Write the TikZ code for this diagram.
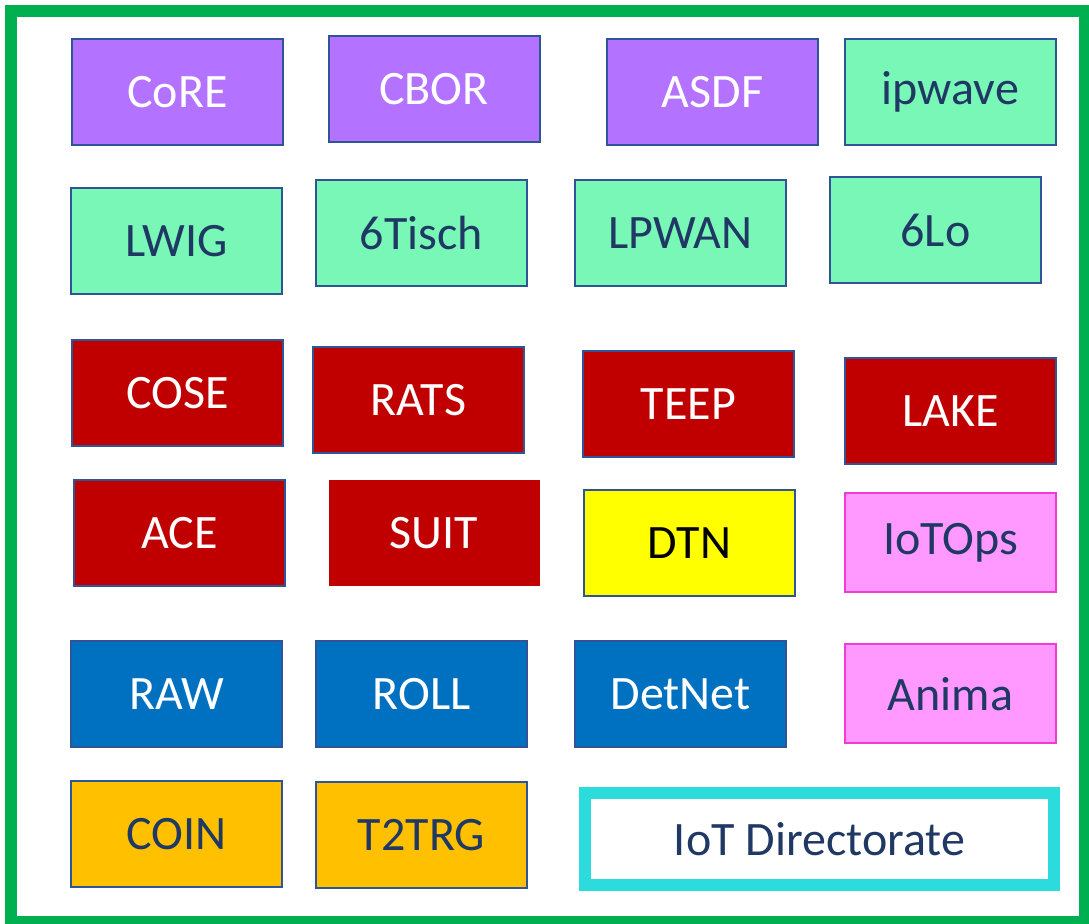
\documentclass[tikz,border=0pt]{standalone}
\usepackage{fontspec}
\setmainfont{Carlito}
\usepackage{tikz}
\definecolor{wgpurple}{HTML}{B372FF}
\definecolor{wgmint}{HTML}{79F7B7}
\definecolor{wgred}{HTML}{C00000}
\definecolor{wgblue}{HTML}{0070C0}
\definecolor{wgorange}{HTML}{FFC000}
\definecolor{wgyellow}{HTML}{FFFF00}
\definecolor{wgpink}{HTML}{FF99FF}
\definecolor{wgpinkline}{HTML}{F03CD2}
\definecolor{wgedge}{HTML}{2F5597}
\definecolor{wgnavy}{HTML}{1F3864}
\definecolor{wgcyan}{HTML}{2CDCDC}
\definecolor{wgframe}{HTML}{00B050}

\begin{document}
\begin{tikzpicture}[x=0.5pt,y=-0.5pt,
		wg/.style={draw=wgedge, line width=1pt, minimum width=105.5pt, minimum height=53pt,
			inner sep=0pt, font=\fontsize{24}{28}\selectfont},
		sec/.style={wg, fill=wgpurple, text=white},
		int/.style={wg, fill=wgmint, text=wgnavy},
		secr/.style={wg, fill=wgred, text=white},
		rtg/.style={wg, fill=wgblue, text=white},
		irtf/.style={wg, fill=wgorange, text=wgnavy},
		ops/.style={wg, fill=wgpink, draw=wgpinkline, minimum height=49.5pt, text=wgnavy}]
	\useasboundingbox (0,0) rectangle (1089,924);
	\draw[wgframe, line width=6pt] (11,11) rectangle (1085,922);
	% row 1
	\node[sec] (core) at (177.5,92) {CoRE};
	\node[sec] (cbor) at (434,89.5) {CBOR};
	\node[sec] (asdf) at (712.5,92) {ASDF};
	\node[int] (ipwave) at (950.5,92) {ipwave};
	% row 2
	\node[int] (lwig) at (176.5,241.5) {LWIG};
	\node[int] (tisch) at (421.5,233) {6Tisch};
	\node[int] (lpwan) at (680.5,233.5) {LPWAN};
	\node[int] (sixlo) at (935.5,230.5) {6Lo};
	% row 3
	\node[secr] (cose) at (177.5,393.5) {COSE};
	\node[secr] (rats) at (418.5,400.5) {RATS};
	\node[secr] (teep) at (688.5,404.5) {TEEP};
	\node[secr] (lake) at (950.5,411) {LAKE};
	% row 4
	\node[secr] (ace) at (179.5,533.5) {ACE};
	\node[secr, draw=none] (suit) at (434,533) {SUIT};
	\node[wg, fill=wgyellow, text=black] (dtn) at (689.5,543.5) {DTN};
	\node[ops] (iotops) at (950.5,543) {IoTOps};
	% row 5
	\node[rtg] (raw) at (176.5,694) {RAW};
	\node[rtg] (roll) at (421.5,694) {ROLL};
	\node[rtg] (detnet) at (680.5,694) {DetNet};
	\node[ops] (anima) at (950.5,694) {Anima};
	% row 6
	\node[irtf] (coin) at (176.5,834.5) {COIN};
	\node[irtf] (t2trg) at (421.5,835.5) {T2TRG};
	\node[wg, draw=wgcyan, line width=6pt, minimum width=234.5pt, minimum height=46pt,
		fill=white, text=wgnavy] (dir) at (819.5,839.5) {IoT Directorate};
\end{tikzpicture}
\end{document}
